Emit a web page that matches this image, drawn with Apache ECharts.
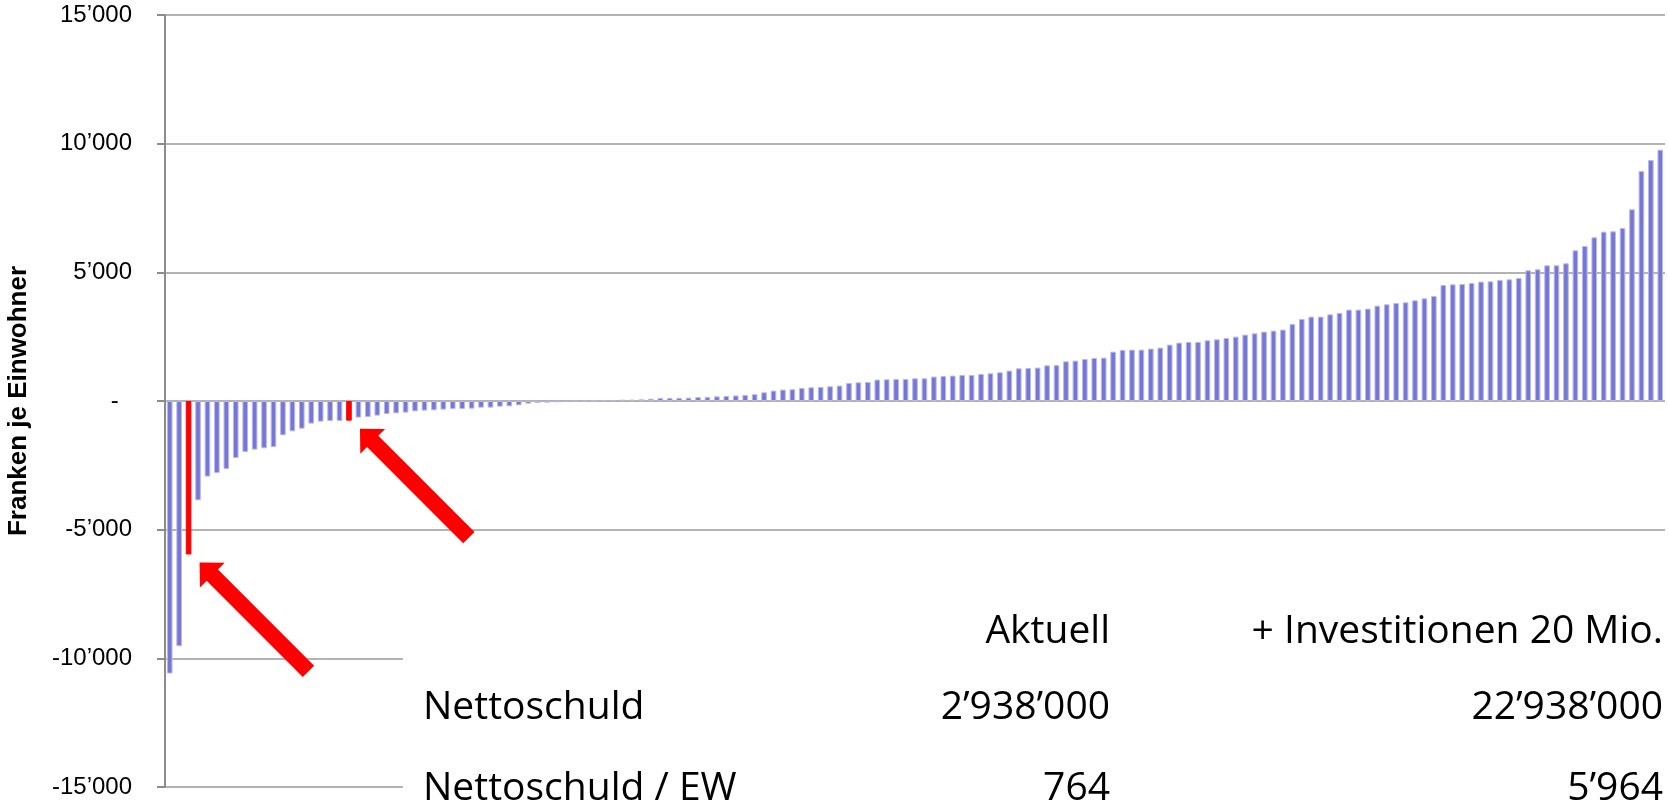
<!DOCTYPE html>
<html>
<head>
<meta charset="utf-8">
<title>Nettoschuld je Einwohner</title>
<script src="https://cdn.jsdelivr.net/npm/echarts@6/dist/echarts.min.js"></script>
<style>
  html, body { margin: 0; padding: 0; background: #fff; }
  #chart { width: 1668px; height: 805px; }
</style>
</head>
<body>
<div id="chart"></div>
<script>
// Franken je Einwohner, sortiert (159 Gemeinden)
var values = [
  -10590, -9530, -5964, -3858, -2937, -2797, -2642, -2214, -1981, -1890,
  -1838, -1787, -1333, -1178, -1074, -879, -801, -777, -777, -764,
  -645, -622, -568, -505, -479, -452, -401, -374, -362, -335,
  -311, -311, -298, -259, -259, -220, -207, -168, -104, -78,
  -65, -52, -40, -26, -12, 8, 26, 30, 52, 55,
  65, 90, 117, 120, 122, 130, 155, 158, 181, 194,
  215, 235, 265, 338, 404, 443, 455, 505, 532, 544,
  571, 598, 699, 726, 738, 831, 843, 855, 855, 882,
  882, 948, 971, 987, 1010, 1010, 1049, 1076, 1115, 1181,
  1270, 1282, 1298, 1385, 1393, 1542, 1568, 1632, 1671, 1684,
  1918, 1983, 1996, 1996, 2035, 2073, 2190, 2268, 2293, 2293,
  2358, 2397, 2448, 2500, 2578, 2630, 2695, 2734, 2773, 2991,
  3186, 3277, 3277, 3368, 3419, 3550, 3550, 3589, 3705, 3757,
  3807, 3834, 3912, 3990, 4079, 4507, 4534, 4545, 4584, 4639,
  4650, 4701, 4728, 4779, 5078, 5117, 5272, 5272, 5350, 5855,
  6022, 6360, 6581, 6593, 6721, 7448, 8936, 9363, 9767
];
var categories = values.map(function (v, i) { return 'G' + (i + 1); });
// rot markierte Balken: aktuell und + Investitionen
var highlight = [19, 2];

var yTicks = { min: -15000, max: 15000, step: 5000 };

var tableHead = ['Aktuell', '+ Investitionen 20 Mio.'];
var tableRows = [
  ['Nettoschuld', '2\u2019938\u2019000', '22\u2019938\u2019000'],
  ['Nettoschuld / EW', '764', '5\u2019964']
];

var blue = '#7676d4';
var red = '#ff0000';

function fmt(v) {
  if (v === 0) return '-  ';
  var s = String(Math.abs(v)).replace(/\B(?=(\d{3})+(?!\d))/g, '\u2019');
  return (v < 0 ? '-' : '') + s;
}

var chart = echarts.init(document.getElementById('chart'), null, { renderer: 'canvas' });

var barData = values.map(function (v, i) {
  if (highlight.indexOf(i) >= 0) {
    return { value: v, itemStyle: { color: red, borderColor: red } };
  }
  return v;
});

var option = {
  backgroundColor: '#fff',
  animation: false,
  grid: { left: 165, right: 3, top: 15, bottom: 18, containLabel: false, outerBoundsMode: 'none' },
  xAxis: {
    type: 'category',
    data: categories,
    axisLine: { show: false },
    axisTick: { show: false },
    axisLabel: { show: false },
    splitLine: { show: false }
  },
  yAxis: {
    type: 'value',
    min: yTicks.min,
    max: yTicks.max,
    interval: yTicks.step,
    name: 'Franken je Einwohner',
    nameLocation: 'middle',
    nameGap: 133,
    nameTextStyle: {
      fontFamily: 'Liberation Sans',
      fontWeight: 'bold',
      fontSize: 26,
      color: '#000'
    },
    axisLine: { show: true, lineStyle: { color: '#8c8c8c', width: 2 } },
    axisTick: { show: true, inside: false, length: 8, lineStyle: { color: '#8c8c8c', width: 2 } },
    axisLabel: {
      margin: 33,
      fontFamily: 'Liberation Sans',
      fontSize: 24,
      color: '#000',
      formatter: fmt
    },
    splitLine: { show: true, lineStyle: { color: '#b3b3b3', width: 2 } }
  },
  series: [{
    type: 'bar',
    data: barData,
    barWidth: 5.6,
    itemStyle: { color: blue, borderColor: '#b8b8ec', borderWidth: 1 }
  }]
};

chart.setOption(option);

function arrowPoints(tx, ty) {
  var d = [Math.SQRT1_2, Math.SQRT1_2];
  var n = [Math.SQRT1_2, -Math.SQRT1_2];
  var headLen = 18, headHalf = 17.5, shaftHalf = 8, len = 154;
  function p(a, b) { return [tx + d[0] * a + n[0] * b, ty + d[1] * a + n[1] * b]; }
  return [
    p(0, 0),
    p(headLen, headHalf),
    p(headLen, shaftHalf),
    p(len, shaftHalf),
    p(len, -shaftHalf),
    p(headLen, -shaftHalf),
    p(headLen, -headHalf)
  ];
}

setTimeout(function () {
  var g = [];
  // weisse Fläche hinter der Tabelle
  g.push({
    type: 'rect', z: 10,
    shape: { x: 403, y: 562, width: 1265, height: 243 },
    style: { fill: '#fff' }
  });
  highlight.forEach(function (idx) {
    var pt = chart.convertToPixel({ xAxisIndex: 0, yAxisIndex: 0 }, [idx, values[idx]]);
    g.push({
      type: 'polygon', z: 20,
      shape: { points: arrowPoints(pt[0] + 11, pt[1] + 8) },
      style: { fill: red }
    });
  });
  var font = '39px "Open Sans"';
  var rowY = [632, 708, 789];
  var colX = [423, 1110, 1663];
  tableHead.forEach(function (t, i) {
    g.push({
      type: 'text', z: 30,
      style: { text: t, x: colX[i + 1], y: rowY[0], font: font, fill: '#000', align: 'right', verticalAlign: 'middle' }
    });
  });
  tableRows.forEach(function (row, r) {
    row.forEach(function (t, c) {
      g.push({
        type: 'text', z: 30,
        style: {
          text: t, x: colX[c], y: rowY[r + 1], font: font, fill: '#000',
          align: c === 0 ? 'left' : 'right', verticalAlign: 'middle'
        }
      });
    });
  });
  chart.setOption({ graphic: g });
}, 0);
</script>
</body>
</html>
